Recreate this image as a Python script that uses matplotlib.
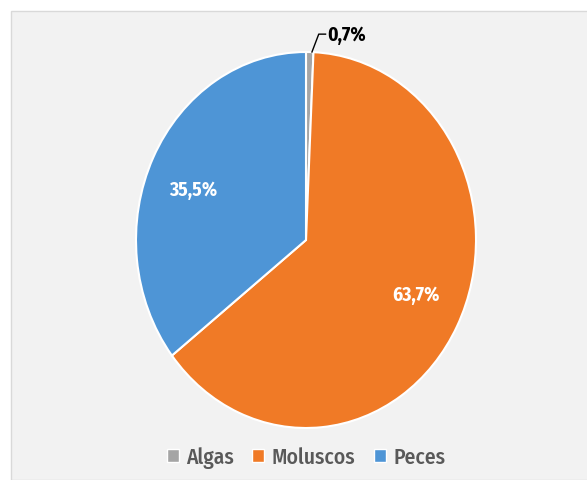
import matplotlib.pyplot as plt
from matplotlib.patches import Rectangle

categories = ['Algas', 'Moluscos', 'Peces']
values = [0.7, 63.7, 35.5]
labels = ['0,7%', '63,7%', '35,5%']
colors = ['#a5a5a5', '#f07a26', '#4e95d6']

plt.rcParams['font.family'] = ['Fira Sans Condensed', 'DejaVu Sans']

W, H = 587, 481
fig = plt.figure(figsize=(W / 100, H / 100), dpi=100)
fig.patch.set_facecolor('white')
fig.patches.append(Rectangle((11 / W, 0), 1, 1 - 12 / H, transform=fig.transFigure,
                             facecolor='#f2f2f2', edgecolor='#d9d9d9', lw=1, zorder=-5))

ax = fig.add_axes([136 / W, 52 / H, 340 / W, 376 / H])
ax.set_facecolor('none')
wedges, _ = ax.pie(values, colors=colors, startangle=90, counterclock=False,
                   wedgeprops=dict(edgecolor='white', linewidth=1.5))
ax.set_aspect('auto')
ax.set_xlim(-1, 1)
ax.set_ylim(-1, 1)

# data labels
ax.text(0.645, -0.29, labels[1], color='white', fontsize=14, fontweight='bold',
        ha='center', va='center')
ax.text(-0.665, 0.27, labels[2], color='white', fontsize=14, fontweight='bold',
        ha='center', va='center')
ax.text(0.125, 1.095, labels[0], color='black', fontsize=14, fontweight='bold',
        ha='left', va='center')
ax.plot([0.035, 0.075, 0.115], [1.0, 1.095, 1.095], color='black', lw=1, clip_on=False)

handles = [plt.Rectangle((0, 0), 1, 1, facecolor=c, edgecolor='white') for c in colors]
fig.legend(handles, categories, loc='center', bbox_to_anchor=(306 / W, 1 - 458 / H),
           ncol=3, frameon=False, prop=dict(size=15.5, weight=500), labelcolor='#595959',
           handlelength=0.55, handleheight=0.55, handletextpad=0.35, columnspacing=0.85)

fig.savefig('out.png', dpi=100)
